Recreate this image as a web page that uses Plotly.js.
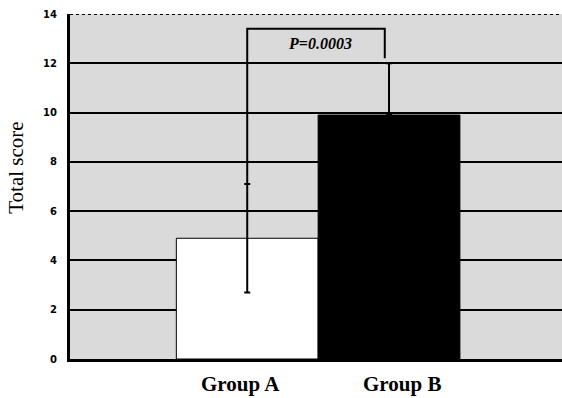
<!DOCTYPE html>
<html>
<head>
<meta charset="utf-8">
<script src="https://cdn.plot.ly/plotly-3.0.1.min.js"></script>
<style>html,body{margin:0;padding:0;background:#fff;}#chart{width:562px;height:398px;}</style>
</head>
<body>
<div id="chart"></div>
<script>
// Data
const groups = ["Group A", "Group B"];
const groupPos = [0, 1];
const totalScore = [4.9, 9.9];
const errUp = [2.2, 2.1];
const errDown = [2.2, 0];
// significance bracket
const bracketTop = 13.4;
const bracketRightEnd = 12.2;
const bracketRightX = 0.97;
const pLabel = "P=0.0003";
const pLabelY = 12.82;
const yTicks = [0, 2, 4, 6, 8, 10, 12, 14];
const yTitle = "Total score";
// label placement offsets (layout only)
const labelShift = [-0.05, 0.09];

const bars = {
  type: "bar",
  x: groupPos,
  y: totalScore,
  width: 1,
  marker: { color: ["#ffffff", "#000000"], line: { color: "#000", width: 1 } },
  error_y: {
    type: "data", symmetric: false, array: errUp, arrayminus: errDown,
    color: "#000", thickness: 2, width: 3
  },
  hoverinfo: "skip"
};

const bracket = {
  type: "scatter", mode: "lines",
  x: [groupPos[0], groupPos[0], bracketRightX, bracketRightX],
  y: [totalScore[0] + errUp[0], bracketTop, bracketTop, bracketRightEnd],
  line: { color: "#000", width: 2 },
  hoverinfo: "skip"
};

const annotations = groups.map((g, i) => ({
  x: groupPos[i] + labelShift[i], xref: "x",
  y: -0.072, yref: "paper", yanchor: "middle",
  text: "<b>" + g + "</b>", showarrow: false,
  font: { family: "Liberation Serif", size: 21, color: "#000" }
}));
annotations.push({
  x: (groupPos[0] + bracketRightX) / 2 + 0.03, y: pLabelY,
  text: "<b><i>" + pLabel + "</i></b>",
  showarrow: false,
  font: { family: "Liberation Serif", size: 16, color: "#000" }
});
annotations.push({
  x: -0.11, xref: "paper", xanchor: "center",
  y: 0.554, yref: "paper", yanchor: "middle",
  textangle: -90, text: yTitle, showarrow: false,
  font: { family: "Liberation Serif", size: 21, color: "#000" }
});

const layout = {
  width: 562, height: 398,
  margin: { l: 70, r: 0, t: 14, b: 39 },
  paper_bgcolor: "#ffffff",
  plot_bgcolor: "#dadada",
  showlegend: false,
  bargap: 0,
  xaxis: {
    range: [-1.25, 2.22],
    tickvals: groupPos,
    showticklabels: false,
    showgrid: false, zeroline: false,
    showline: true, linecolor: "#000", linewidth: 3,
    ticks: ""
  },
  yaxis: {
    range: [0, yTicks[yTicks.length - 1]],
    tickvals: yTicks,
    showgrid: true, gridcolor: "#000", gridwidth: 2,
    zeroline: false,
    showline: true, linecolor: "#000", linewidth: 3,
    ticks: "", ticklabelstandoff: 8,
    tickfont: { family: "DejaVu Sans", size: 10, color: "#000", weight: "bold" }
  },
  shapes: [{
    type: "line", xref: "paper", x0: 0, x1: 1,
    yref: "y", y0: yTicks[yTicks.length - 1], y1: yTicks[yTicks.length - 1],
    line: { color: "#000", width: 2, dash: "dot" }
  }],
  annotations: annotations
};

Plotly.newPlot("chart", [bars, bracket], layout, { displayModeBar: false, staticPlot: true });
</script>
</body>
</html>
